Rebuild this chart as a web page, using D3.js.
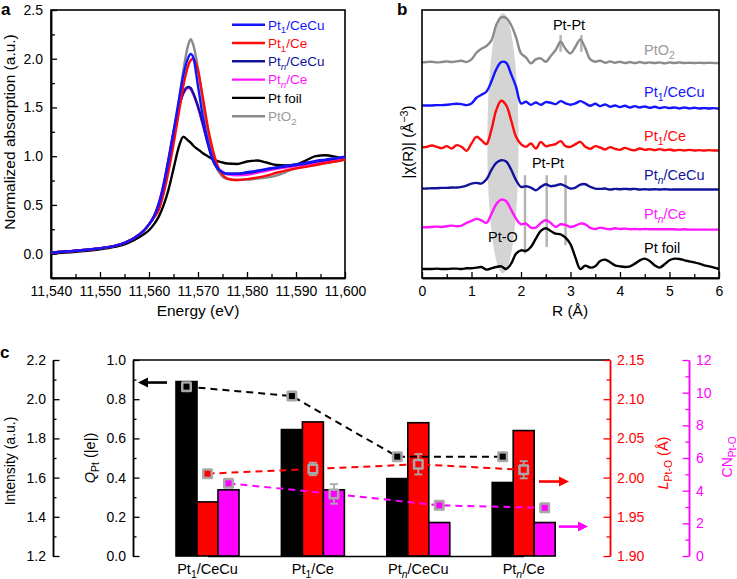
<!DOCTYPE html>
<html><head><meta charset="utf-8">
<script src="https://cdn.jsdelivr.net/npm/d3@7"></script>
<style>body{margin:0;background:#fff}svg{font-family:"Liberation Sans",Arial,Helvetica,sans-serif}</style>
</head><body><svg id="c" width="737" height="579"></svg>
<script>
// ---------------- DATA: panel a (XANES) ----------------
const energy = [11540,11545,11550,11553,11555,11557,11559,11560,11561,11562,11563,11564,11565,11566,11567,11568,11568.5,11569,11570,11571,11572,11573,11574,11575,11576,11578,11580,11582,11584,11586,11588,11590,11592,11594,11596,11598,11600];
const xanesNames = ["Pt1/CeCu","Pt1/Ce","Ptn/CeCu","Ptn/Ce","Pt foil","PtO2"];
const xanesPt1CeCu = [0.01,0.03,0.055,0.08,0.11,0.16,0.24,0.30,0.38,0.50,0.70,0.95,1.25,1.55,1.83,2.01,2.05,2.02,1.72,1.40,1.15,0.97,0.88,0.835,0.82,0.82,0.835,0.85,0.87,0.885,0.90,0.915,0.93,0.95,0.965,0.98,0.995];
const xanesPt1Ce   = [0.01,0.03,0.055,0.08,0.11,0.16,0.24,0.30,0.37,0.45,0.62,0.85,1.12,1.42,1.72,1.93,1.985,2.0,1.88,1.60,1.30,1.07,0.90,0.81,0.77,0.755,0.765,0.78,0.80,0.83,0.855,0.875,0.89,0.91,0.93,0.945,0.965];
const xanesPtnCeCu = [0.01,0.03,0.055,0.08,0.11,0.16,0.24,0.30,0.38,0.51,0.71,0.97,1.24,1.48,1.65,1.71,1.70,1.65,1.51,1.33,1.13,0.96,0.87,0.83,0.82,0.82,0.83,0.845,0.865,0.88,0.895,0.91,0.925,0.945,0.96,0.975,0.99];
const xanesPtnCe   = [0.01,0.03,0.055,0.08,0.11,0.16,0.24,0.30,0.38,0.52,0.72,0.98,1.25,1.48,1.64,1.70,1.69,1.64,1.50,1.32,1.13,0.97,0.88,0.84,0.815,0.805,0.81,0.83,0.85,0.87,0.885,0.90,0.915,0.93,0.945,0.96,0.975];
const xanesPtFoil  = [0.0,0.02,0.045,0.07,0.095,0.14,0.20,0.24,0.30,0.38,0.50,0.66,0.87,1.08,1.20,1.16,1.14,1.11,1.07,1.03,1.0,0.97,0.95,0.935,0.925,0.92,0.945,0.955,0.935,0.91,0.905,0.915,0.955,1.0,1.01,0.995,0.97];
const xanesPtO2    = [0.01,0.03,0.055,0.08,0.11,0.16,0.24,0.30,0.37,0.46,0.64,0.88,1.18,1.52,1.88,2.14,2.20,2.15,1.90,1.55,1.22,1.0,0.86,0.79,0.765,0.755,0.76,0.77,0.78,0.80,0.84,0.875,0.895,0.91,0.93,0.945,0.965];
const energyTicks = [11540,11550,11560,11570,11580,11590,11600];
const absTicks = [0.0,0.5,1.0,1.5,2.0,2.5];

// ---------------- DATA: panel b (EXAFS FT) ----------------
const rValues = d3.range(61).map(i => +(i * 0.1).toFixed(1)); // 0.0 ... 6.0 Å grid
const exafsNames = ["PtO2","Pt1/CeCu","Pt1/Ce","Ptn/CeCu","Ptn/Ce","Pt foil"];
const exafsOffsets = [6.46,5.15,3.88,2.68,1.50,0.27];
const ftPtO2 = [0,0.01,0.02,0,0.01,0.03,0.01,0.03,0.05,0.01,0.09,0.29,0.41,0.49,0.65,1.12,1.35,1.33,1.12,0.75,0.27,0.15,-0.03,0.09,0.12,0.02,0.19,0.37,0.62,0.40,0.27,0.47,0.69,0.42,0.09,0.02,0.05,-0.01,0.03,-0.01,0.02,-0.02,0.01,-0.02,0.01,-0.02,0,-0.02,0,-0.03,0,-0.02,0,-0.02,-0.01,-0.02,-0.01,-0.02,-0.01,-0.02,-0.02];
const ftPt1CeCu = [0.02,0.02,0.02,0.03,0.03,0.04,0.06,0.07,0.06,0.03,0.08,0.25,0.34,0.43,0.73,1.10,1.32,1.30,0.96,0.58,0.08,0.13,0.04,0.11,0.04,0.12,0.10,0.06,0.15,0.08,0.04,0.08,0.15,0.08,0.01,0.07,0,0.05,-0.02,0.02,-0.03,0.01,-0.04,0,-0.04,-0.01,-0.05,-0.02,-0.06,-0.03,-0.06,-0.04,-0.07,-0.04,-0.07,-0.05,-0.07,-0.06,-0.07,-0.06,-0.08];
const ftPt1Ce = [0.03,0.05,0.09,0.05,0.01,0.07,0,0.10,0.05,-0.07,0.15,0.35,0.25,0.13,0.55,1.15,1.43,1.30,0.85,0.35,0.13,0.05,0.15,0,0.20,0.07,0.10,0.13,0.22,0.07,0.05,0.13,0.20,0.05,-0.01,0.07,0.03,-0.03,0.04,-0.01,-0.04,0.02,-0.03,-0.05,0,-0.04,-0.02,-0.05,-0.02,-0.05,-0.03,-0.06,-0.04,-0.06,-0.04,-0.06,-0.05,-0.06,-0.05,-0.06,-0.06];
const ftPtnCeCu = [0,0,0.01,0.01,0.02,0.02,0.03,0.03,0.05,0.09,0.15,0.17,0.15,0.27,0.55,0.77,0.85,0.81,0.57,0.25,0.05,0.07,0.03,-0.05,0.05,0.13,0.07,0.09,0.13,0.07,0,0.03,0.12,0.13,0.05,0,-0.01,0,-0.03,-0.01,-0.02,-0.01,-0.02,-0.01,-0.03,-0.02,-0.03,-0.02,-0.03,-0.02,-0.03,-0.03,-0.03,-0.03,-0.03,-0.03,-0.03,-0.03,-0.03,-0.03,-0.03];
const ftPtnCe = [0.02,0.02,0.03,0.04,0.03,0.05,0.07,0.05,0.07,0.15,0.21,0.27,0.23,0.15,0.41,0.71,0.85,0.80,0.55,0.28,0.11,0.13,0.01,0.01,0.15,0.23,0.15,0.03,0.11,0.09,0.03,0.07,0.13,0.11,0,-0.03,0.01,-0.02,-0.04,-0.01,-0.03,-0.02,-0.04,-0.03,-0.04,-0.03,-0.04,-0.04,-0.04,-0.04,-0.04,-0.04,-0.05,-0.04,-0.05,-0.05,-0.05,-0.05,-0.05,-0.05,-0.05];
const ftPtFoil = [0,0,0,0.01,0,0,0.01,0.01,0,0.02,0.02,0.04,0.06,-0.02,0.02,0.06,0.08,0,0.16,0.46,0.56,0.54,0.66,0.91,1.14,1.22,1.14,1.06,1.04,0.94,0.74,0.34,0,0.10,0.04,0.08,0.24,0.28,0.20,0.11,0.08,0.06,0.08,0.16,0.26,0.31,0.24,0.11,0.04,0.14,0.26,0.31,0.30,0.26,0.23,0.20,0.16,0.11,0.08,0.04,0];
const rTicks = [0,1,2,3,4,5,6];
const ptoRegion = [1.32, 1.95, 0.14, 7.94];          // R from, R to, |χ| from, |χ| to
const ptPtO2Marks = [2.80, 3.22];                      // Pt-Pt in PtO2
const ptPtO2MarkRange = [6.78, 7.28];
const ptPtFoilMarks = [2.08, 2.52, 2.90];              // Pt-Pt in Pt foil
const ptPtFoilMarkBottom = [0.73, 0.93, 0.98];
const ptPtFoilMarkTop = 3.08;

// ---------------- DATA: panel c ----------------
const categories = ["Pt1/CeCu","Pt1/Ce","Ptn/CeCu","Ptn/Ce"];
const qBars   = [0.89, 0.645, 0.395, 0.375];   // Q_Pt (|e|)
const lBars   = [1.969, 2.071, 2.070, 2.060];  // L_Pt-O (Å)
const cnBars  = [4.05, 4.05, 2.05, 2.05];      // CN_Pt-O
const intensityPts = [2.064, 2.016, 1.707, 1.707];
const lPts    = [2.005, 2.011, 2.017, 2.010];
const lErr    = [0, 0.008, 0.013, 0.011];
const cnPts   = [4.45, 3.80, 3.10, 2.95];
const cnErr   = [0, 0.60, 0, 0];
const intensityTicks = [1.2,1.4,1.6,1.8,2.0,2.2];
const qTicks  = [0.0,0.2,0.4,0.6,0.8,1.0];
const lTicks  = [1.90,1.95,2.00,2.05,2.10,2.15];
const cnTicks = [0,2,4,6,8,10,12];

// ---------------- helpers ----------------
const svg = d3.select("#c");
const colors = {"Pt1/CeCu":"#1414ff","Pt1/Ce":"#ff0a0a","Ptn/CeCu":"#12129a","Ptn/Ce":"#ff16ff","Pt foil":"#000000","PtO2":"#8a8a8a"};
function nameParts(n){
  if (n === "PtO2") return [["PtO"],["2","sub"]];
  if (n.startsWith("Pt1")) return [["Pt"],["1","sub"],[n.slice(3)]];
  if (n.startsWith("Ptn")) return [["Pt"],["n","subi"],[n.slice(3)]];
  return [[n]];
}
function rich(t, parts, fs){
  let shift = 0;
  parts.forEach(p => {
    const txt = p[0], k = p[1] || "";
    const ts = t.append("tspan").text(txt);
    let target = 0;
    if (k === "sub" || k === "subi") { target = fs*0.28; ts.attr("font-size", fs*0.72); }
    if (k === "sup") { target = -fs*0.38; ts.attr("font-size", fs*0.72); }
    if (k === "subi" || k === "it") ts.attr("font-style","italic");
    if (target !== shift) { ts.attr("dy", target - shift); shift = target; }
  });
  return t;
}
function styleAxis(g, fs){
  g.selectAll("path.domain").attr("stroke-width",1.5);
  g.selectAll(".tick line").attr("stroke-width",1.3);
  g.selectAll("text").attr("font-size",fs).attr("font-family",null);
  g.attr("font-family",null);
}
function arrowHead(g, x, y, dir, color){
  const L = 10, W = 5;
  g.append("path").attr("d", `M${x},${y} L${x - dir*L},${y-W} L${x - dir*L},${y+W} Z`).attr("fill", color);
}

// ================= PANEL A =================
const A = {l:51, r:345, t:10, b:278};
const xA = d3.scaleLinear().domain([11540,11600]).range([A.l, A.r]);
const yA = d3.scaleLinear().domain([-0.25,2.5]).range([A.b, A.t]);
const gA = svg.append("g");
gA.append("g").attr("transform",`translate(0,${A.b})`)
  .call(d3.axisBottom(xA).tickValues(d3.range(11545,11600,10)).tickSizeInner(-4).tickSizeOuter(0).tickFormat(""))
  .call(g=>styleAxis(g,14));
gA.append("g").attr("transform",`translate(0,${A.b})`)
  .call(d3.axisBottom(xA).tickValues(energyTicks).tickSizeInner(-6).tickSizeOuter(0).tickPadding(8).tickFormat(d3.format(",")))
  .call(g=>styleAxis(g,14));
gA.append("g").attr("transform",`translate(${A.l},0)`)
  .call(d3.axisLeft(yA).tickValues([-0.25,0.25,0.75,1.25,1.75,2.25]).tickSizeInner(-4).tickSizeOuter(0).tickFormat(""))
  .call(g=>styleAxis(g,14));
gA.append("g").attr("transform",`translate(${A.l},0)`)
  .call(d3.axisLeft(yA).tickValues(absTicks).tickSizeInner(-6).tickSizeOuter(0).tickPadding(8).tickFormat(d3.format(".1f")))
  .call(g=>styleAxis(g,14));
gA.append("rect").attr("x",A.l).attr("y",A.t).attr("width",A.r-A.l).attr("height",A.b-A.t)
  .attr("fill","none").attr("stroke","#000").attr("stroke-width",1.6);
const xanesSeries = [xanesPtO2, xanesPtFoil, xanesPtnCe, xanesPtnCeCu, xanesPt1Ce, xanesPt1CeCu];
const xanesOrder = ["PtO2","Pt foil","Ptn/Ce","Ptn/CeCu","Pt1/Ce","Pt1/CeCu"];
const lineA = d3.line().x(d=>xA(d[0])).y(d=>yA(d[1])).curve(d3.curveMonotoneX);
xanesOrder.forEach((n,i) => {
  gA.append("path").datum(energy.map((e,j)=>[e, xanesSeries[i][j]]))
    .attr("d", lineA).attr("fill","none").attr("stroke", colors[n]).attr("stroke-width",2.4).attr("stroke-linejoin","round");
});
// legend
const legA = gA.append("g");
xanesNames.forEach((n,i) => {
  const y = 24.7 + i*18.3;
  legA.append("line").attr("x1",232).attr("x2",265).attr("y1",y).attr("y2",y).attr("stroke",colors[n]).attr("stroke-width",2.4);
  const t = legA.append("text").attr("x",268).attr("y",y).attr("dy","0.36em").attr("font-size",13.5)
    .attr("fill", n==="PtO2" ? "#9a9a9a" : colors[n]);
  rich(t, nameParts(n), 13.5);
});
gA.append("text").attr("x",198).attr("y",316).attr("text-anchor","middle").attr("font-size",15.5).text("Energy (eV)");
gA.append("text").attr("transform","translate(9,132) rotate(-90)").attr("dy","0.36em").attr("text-anchor","middle").attr("font-size",15.5).text("Normalized absorption (a.u.)");
svg.append("text").attr("x",1).attr("y",15).attr("font-size",17).attr("font-weight","bold").text("a");

// ================= PANEL B =================
const B = {l:422, r:719, t:10, b:278};
const xB = d3.scaleLinear().domain([0,6]).range([B.l, B.r]);
const yB = d3.scaleLinear().domain([0,8.03]).range([B.b, B.t]);
const gB = svg.append("g");
// Pt-O shaded region
gB.append("ellipse")
  .attr("cx", (xB(ptoRegion[0])+xB(ptoRegion[1]))/2).attr("cy", (yB(ptoRegion[2])+yB(ptoRegion[3]))/2)
  .attr("rx", (xB(ptoRegion[1])-xB(ptoRegion[0]))/2).attr("ry", (yB(ptoRegion[2])-yB(ptoRegion[3]))/2)
  .attr("fill","#d4d4d4");
// Pt-Pt markers
ptPtO2Marks.forEach(r => gB.append("line").attr("x1",xB(r)).attr("x2",xB(r)).attr("y1",yB(ptPtO2MarkRange[0])).attr("y2",yB(ptPtO2MarkRange[1])).attr("stroke","#b4b4b4").attr("stroke-width",2.5));
ptPtFoilMarks.forEach((r,i) => gB.append("line").attr("x1",xB(r)).attr("x2",xB(r)).attr("y1",yB(ptPtFoilMarkBottom[i])).attr("y2",yB(ptPtFoilMarkTop)).attr("stroke","#b4b4b4").attr("stroke-width",2.5));
const ftSeries = [ftPtO2, ftPt1CeCu, ftPt1Ce, ftPtnCeCu, ftPtnCe, ftPtFoil];
const lineB = d3.line().x(d=>xB(d[0])).y(d=>yB(d[1])).curve(d3.curveCatmullRom.alpha(0.5));
exafsNames.forEach((n,i) => {
  gB.append("path").datum(rValues.map((r,j)=>[r, exafsOffsets[i] + ftSeries[i][j]]))
    .attr("d", lineB).attr("fill","none").attr("stroke", colors[n]).attr("stroke-width",2.4).attr("stroke-linejoin","round");
});
gB.append("g").attr("transform",`translate(0,${B.b})`)
  .call(d3.axisBottom(xB).tickValues([0.5,1.5,2.5,3.5,4.5,5.5]).tickSizeInner(-4).tickSizeOuter(0).tickFormat(""))
  .call(g=>styleAxis(g,14));
gB.append("g").attr("transform",`translate(0,${B.b})`)
  .call(d3.axisBottom(xB).tickValues(rTicks).tickSizeInner(-6).tickSizeOuter(0).tickPadding(8).tickFormat(d3.format("d")))
  .call(g=>styleAxis(g,14));
gB.append("rect").attr("x",B.l).attr("y",B.t).attr("width",B.r-B.l).attr("height",B.b-B.t)
  .attr("fill","none").attr("stroke","#000").attr("stroke-width",1.6);
// labels
const bLabelY = [50, 92, 136, 175, 214, 248];
exafsNames.forEach((n,i) => {
  const t = gB.append("text").attr("x",644).attr("y",bLabelY[i]).attr("dy","0.36em").attr("font-size",14.5)
    .attr("fill", n==="PtO2" ? "#9a9a9a" : colors[n]);
  rich(t, nameParts(n), 14.5);
});
gB.append("text").attr("x",569).attr("y",25).attr("dy","0.36em").attr("text-anchor","middle").attr("font-size",14.5).text("Pt-Pt");
gB.append("text").attr("x",548).attr("y",163).attr("dy","0.36em").attr("text-anchor","middle").attr("font-size",14.5).text("Pt-Pt");
gB.append("text").attr("x",503).attr("y",237).attr("dy","0.36em").attr("text-anchor","middle").attr("font-size",14.5).text("Pt-O");
gB.append("text").attr("x",570).attr("y",316).attr("text-anchor","middle").attr("font-size",15.5).text("R (Å)");
rich(gB.append("text").attr("transform","translate(408,142) rotate(-90)").attr("dy","0.36em").attr("text-anchor","middle").attr("font-size",15),
  [["|χ(R)| (Å"],["−3","sup"],[")"]], 15);
svg.append("text").attr("x",397).attr("y",15).attr("font-size",17).attr("font-weight","bold").text("b");

// ================= PANEL C =================
const C = {l:133, r:610, t:360, b:556};
const xC = d3.scalePoint().domain(categories).range([207.5, 523.7]);
const yQ = d3.scaleLinear().domain([0,1]).range([C.b, C.t]);
const yI = d3.scaleLinear().domain([1.2,2.2]).range([C.b, C.t]);
const yL = d3.scaleLinear().domain([1.9,2.15]).range([C.b, C.t]);
const yCN = d3.scaleLinear().domain([0,12]).range([C.b, C.t]);
const bw = 21;
const gC = svg.append("g");
// bars
const barSpecs = [
  {vals:qBars, sc:yQ, off:-1, fill:"#000"},
  {vals:lBars, sc:yL, off:0, fill:"#ff0000"},
  {vals:cnBars, sc:yCN, off:1, fill:"#ff00ff"}];
barSpecs.forEach(s => {
  gC.selectAll(null).data(categories).join("rect")
    .attr("x", c => xC(c) + s.off*bw - bw/2).attr("width", bw)
    .attr("y", (c,i) => s.sc(s.vals[i])).attr("height", (c,i) => C.b - s.sc(s.vals[i]))
    .attr("fill", s.fill).attr("stroke","#000").attr("stroke-width",1.6);
});
// dashed lines + markers
const ptSpecs = [
  {vals:intensityPts, err:null, sc:yI, off:-1, color:"#000"},
  {vals:lPts, err:lErr, sc:yL, off:0, color:"#ff0000"},
  {vals:cnPts, err:cnErr, sc:yCN, off:1, color:"#ff00ff"}];
ptSpecs.forEach(s => {
  const pts = categories.map((c,i)=>[xC(c)+s.off*bw, s.sc(s.vals[i])]);
  gC.append("path").attr("d", d3.line()(pts)).attr("fill","none").attr("stroke", s.color)
    .attr("stroke-width",2).attr("stroke-dasharray","7,5");
});
ptSpecs.forEach(s => {
  categories.forEach((c,i) => {
    const x = xC(c)+s.off*bw, y = s.sc(s.vals[i]);
    if (s.err && s.err[i] > 0) {
      const y1 = s.sc(s.vals[i]-s.err[i]), y2 = s.sc(s.vals[i]+s.err[i]);
      gC.append("line").attr("x1",x).attr("x2",x).attr("y1",y1).attr("y2",y2).attr("stroke","#a8a8a8").attr("stroke-width",1.8);
      [y1,y2].forEach(yy => gC.append("line").attr("x1",x-4).attr("x2",x+4).attr("y1",yy).attr("y2",yy).attr("stroke","#a8a8a8").attr("stroke-width",1.8));
    }
    gC.append("rect").attr("x",x-5.5).attr("y",y-5.5).attr("width",11).attr("height",11).attr("rx",1.5).attr("fill","#a8a8a8");
    gC.append("rect").attr("x",x-3).attr("y",y-3).attr("width",6).attr("height",6).attr("fill",s.color);
  });
});
// arrows
const arrowBlackY = yQ(0.885);
gC.append("line").attr("x1",167).attr("x2",146).attr("y1",arrowBlackY).attr("y2",arrowBlackY).attr("stroke","#000").attr("stroke-width",2.6);
arrowHead(gC, 138, arrowBlackY, -1, "#000");
const arrowRedY = yL(1.995);
gC.append("line").attr("x1",539).attr("x2",561).attr("y1",arrowRedY).attr("y2",arrowRedY).attr("stroke","#ff0000").attr("stroke-width",2.6);
arrowHead(gC, 569, arrowRedY, 1, "#ff0000");
const arrowMagY = yCN(1.8);
gC.append("line").attr("x1",559).attr("x2",580).attr("y1",arrowMagY).attr("y2",arrowMagY).attr("stroke","#ff00ff").attr("stroke-width",2.6);
arrowHead(gC, 588, arrowMagY, 1, "#ff00ff");
// frame top
gC.append("line").attr("x1",C.l).attr("x2",C.r).attr("y1",C.t).attr("y2",C.t).attr("stroke","#000").attr("stroke-width",1.6);
// axes
gC.append("g").attr("transform",`translate(0,${C.b})`)
  .call(d3.axisBottom(xC).tickSize(0).tickPadding(10).tickFormat(""))
  .call(g=>styleAxis(g,14));
gC.selectAll(null).data(categories).join("text")
  .attr("x", c=>xC(c)).attr("y", 574).attr("text-anchor","middle").attr("font-size",14.5)
  .each(function(c){ rich(d3.select(this), nameParts(c), 14.5); });
function vAxis(x, sc, minor, major, fmt, color, side){
  const axisFn = side === "left" ? d3.axisLeft : d3.axisRight;
  const g1 = gC.append("g").attr("transform",`translate(${x},0)`)
    .call(axisFn(sc).tickValues(minor).tickSizeInner(-3.5).tickSizeOuter(0).tickFormat(""));
  styleAxis(g1,14);
  const g2 = gC.append("g").attr("transform",`translate(${x},0)`)
    .call(axisFn(sc).tickValues(major).tickSizeInner(-6.5).tickSizeOuter(0).tickPadding(7).tickFormat(fmt));
  styleAxis(g2,14);
  [g1,g2].forEach(g => { g.selectAll("path,line").attr("stroke",color); g.selectAll("text").attr("fill",color); });
}
vAxis(53, yI, [1.3,1.5,1.7,1.9,2.1], intensityTicks, d3.format(".1f"), "#000", "left");
vAxis(C.l, yQ, [0.1,0.3,0.5,0.7,0.9], qTicks, d3.format(".1f"), "#000", "left");
vAxis(C.r, yL, [1.925,1.975,2.025,2.075,2.125], lTicks, d3.format(".2f"), "#ff0000", "right");
vAxis(689, yCN, [1,3,5,7,9,11], cnTicks, d3.format("d"), "#ff00ff", "right");
// axis titles
gC.append("text").attr("transform","translate(10,461) rotate(-90)").attr("dy","0.36em").attr("text-anchor","middle").attr("font-size",14).text("Intensity (a.u.)");
rich(gC.append("text").attr("transform","translate(90,458) rotate(-90)").attr("dy","0.36em").attr("text-anchor","middle").attr("font-size",14.5),
  [["Q","it"],["Pt","sub"],[" (|e|)"]], 14.5);
rich(gC.append("text").attr("transform","translate(663,463) rotate(-90)").attr("dy","0.36em").attr("text-anchor","middle").attr("font-size",14.5).attr("fill","#ff0000"),
  [["L","it"],["Pt-O","sub"],[" (Å)"]], 14.5);
rich(gC.append("text").attr("transform","translate(727,457) rotate(-90)").attr("dy","0.36em").attr("text-anchor","middle").attr("font-size",14).attr("fill","#ff00ff"),
  [["CN"],["Pt-O","sub"]], 14);
svg.append("text").attr("x",0).attr("y",358).attr("font-size",17).attr("font-weight","bold").text("c");
</script></body></html>
